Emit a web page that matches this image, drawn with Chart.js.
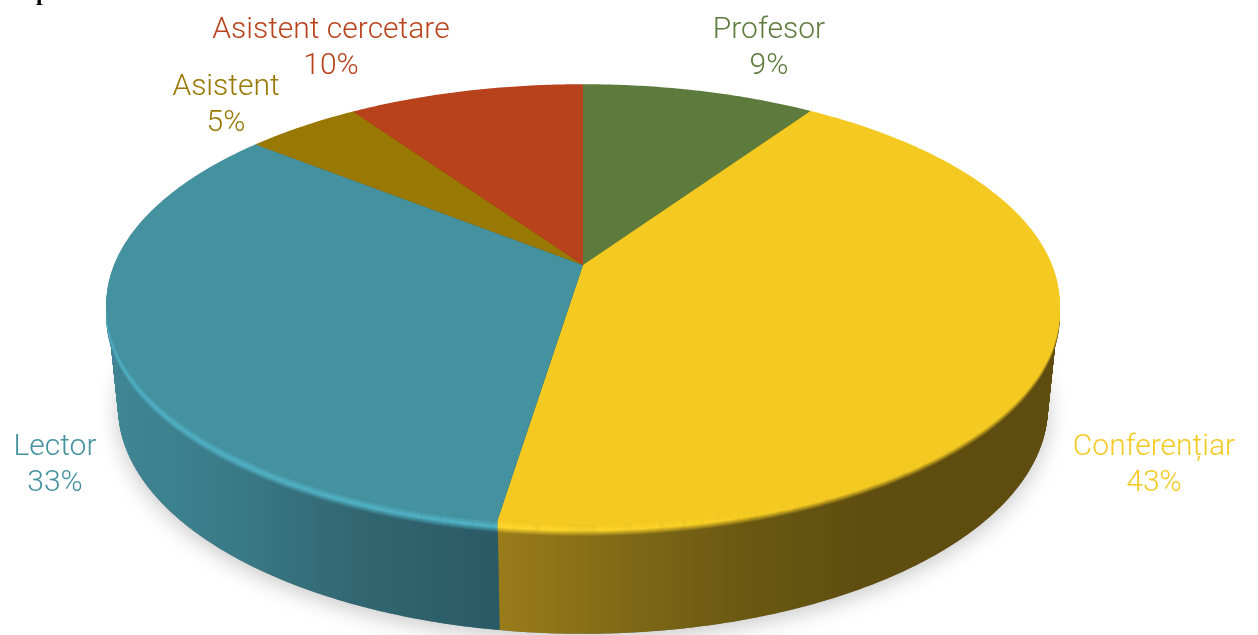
<!DOCTYPE html>
<html>
<head>
<meta charset="utf-8">
<style>
  html, body { margin: 0; padding: 0; background: #fff; overflow: hidden; }
  canvas { display: block; }
</style>
<script src="https://cdn.jsdelivr.net/npm/chart.js@4"></script>
</head>
<body>
<canvas id="chart" width="1258" height="635"></canvas>
<script>
const categories = ["Profesor", "Conferențiar", "Lector", "Asistent", "Asistent cercetare"];
const shares = [9.4, 43, 33.45, 4.65, 9.5];
const shareLabels = ["9%", "43%", "33%", "5%", "10%"];

const topColours = ["#5c7b3c", "#f4ca22", "#44919f", "#997803", "#b8421c"];

// wall shading runs left to right, [x, r, g, b, highlight r, g, b]
const wallShades = [
    [[583, 60, 80, 40, 110, 140, 75], [810, 50, 65, 32, 110, 140, 75]],
    [[498, 154, 124, 26, 255, 216, 44], [620, 128, 106, 23, 252, 212, 40], [740, 107, 89, 18, 246, 204, 34], [860, 95, 78, 16, 244, 202, 34], [1060, 95, 76, 16, 244, 202, 34]],
    [[107, 64, 134, 149, 78, 176, 196], [230, 58, 123, 135, 80, 178, 198], [360, 49, 102, 113, 80, 178, 198], [498, 42, 90, 102, 82, 180, 200]],
    [[258, 110, 86, 2, 170, 135, 10], [357, 110, 86, 2, 170, 135, 10]],
    [[357, 130, 46, 20, 200, 80, 40], [583, 130, 46, 20, 200, 80, 40]]
];

// where each label sits, centre of the first line
const labelSpots = [[769, 30], [1154, 447], [55, 447], [226, 87], [331, 30]];
const labelLineGap = 36;

// perspective view of the disc, tilt brings the near side towards the viewer
const cx = 583;
const tilt = -0.18;
const topFace = { a: 468.2, b: 212.4, y: 265 };
const baseFace = { a: 457.4, b: 219.6, y: 366 };
const rimDepth = 12;
const wallLayers = 120;

function project(face, angle, drop) {
    const u = Math.cos(angle);
    const v = Math.sin(angle);
    const d = 1 + tilt * v;
    return [cx + face.a * u / d, face.y + face.b * v / d + (drop || 0)];
}

function traceCurve(ctx, face, from, to, drop, moveFirst) {
    const steps = Math.max(2, Math.ceil(Math.abs(to - from) / 0.01));
    for (let i = 0; i <= steps; i++) {
        const p = project(face, from + (to - from) * i / steps, drop);
        if (i === 0 && moveFirst) ctx.moveTo(p[0], p[1]);
        else ctx.lineTo(p[0], p[1]);
    }
}

function shadeGradient(ctx, shade, mixer) {
    const x0 = shade[0][0];
    const x1 = shade[shade.length - 1][0];
    const g = ctx.createLinearGradient(x0, 0, x1, 0);
    for (const s of shade) {
        const c = mixer(s);
        g.addColorStop((s[0] - x0) / (x1 - x0), `rgb(${c[0]}, ${c[1]}, ${c[2]})`);
    }
    return g;
}

function hexToRgb(hex) {
    return [1, 3, 5].map(i => parseInt(hex.slice(i, i + 2), 16));
}

function mix(a, b, w) {
    return a.map((v, i) => Math.round(v + (b[i] - v) * w));
}

// rim colour across its depth: wall at the outside, highlight in the middle, face colour inside
function rimColour(s, top, depth) {
    const wall = s.slice(1, 4);
    const hi = s.slice(4, 7);
    if (depth > 6) return mix(hi, wall, (depth - 6) / (rimDepth - 6));
    return mix(top, hi, depth / 6);
}

function faceBetween(w) {
    return {
        a: baseFace.a + (topFace.a - baseFace.a) * w,
        b: baseFace.b + (topFace.b - baseFace.b) * w,
        y: baseFace.y + (topFace.y - baseFace.y) * w
    };
}

const pie3d = {
    id: 'pie3d',
    beforeDatasetsDraw(chart) {
        const ctx = chart.ctx;
        const arcs = chart.getDatasetMeta(0).data;

        // soft shadow under the disc
        ctx.save();
        ctx.shadowColor = 'rgba(0, 0, 0, 0.22)';
        ctx.shadowBlur = 22;
        ctx.shadowOffsetY = 5;
        ctx.fillStyle = '#888';
        ctx.beginPath();
        traceCurve(ctx, baseFace, 0, Math.PI * 2, 0, true);
        ctx.closePath();
        ctx.fill();
        ctx.restore();

        // walls, stacked up from the base so the sides stay straight
        const wallFills = arcs.map((arc, i) => shadeGradient(ctx, wallShades[i], s => s.slice(1, 4)));
        for (let layer = 0; layer <= wallLayers; layer++) {
            const face = faceBetween(layer / wallLayers);
            arcs.forEach((arc, i) => {
                ctx.fillStyle = wallFills[i];
                ctx.beginPath();
                ctx.moveTo(cx, face.y);
                traceCurve(ctx, face, arc.startAngle, arc.endAngle, 0, false);
                ctx.closePath();
                ctx.fill();
            });
        }

        // rounded rim between wall and face
        arcs.forEach((arc, i) => {
            const top = hexToRgb(topColours[i]);
            for (let d = rimDepth; d >= 0; d--) {
                ctx.strokeStyle = shadeGradient(ctx, wallShades[i], s => rimColour(s, top, d));
                ctx.lineWidth = 1.6;
                ctx.beginPath();
                traceCurve(ctx, topFace, arc.startAngle, arc.endAngle, d, true);
                ctx.stroke();
            }
        });

        // top face
        arcs.forEach((arc, i) => {
            ctx.fillStyle = topColours[i];
            ctx.beginPath();
            ctx.moveTo(cx, topFace.y);
            traceCurve(ctx, topFace, arc.startAngle, arc.endAngle, 0, false);
            ctx.closePath();
            ctx.fill();
        });

        return false;
    },
    afterDraw(chart) {
        const ctx = chart.ctx;
        ctx.save();
        ctx.textAlign = 'center';
        ctx.textBaseline = 'middle';
        ctx.font = "300 30px Roboto";
        categories.forEach((name, i) => {
            const spot = labelSpots[i];
            ctx.fillStyle = topColours[i];
            ctx.fillText(name, spot[0], spot[1]);
            ctx.fillText(shareLabels[i], spot[0], spot[1] + labelLineGap);
        });
        // foot of the page heading that the crop cuts off
        ctx.textAlign = 'left';
        ctx.textBaseline = 'alphabetic';
        ctx.fillStyle = '#000';
        ctx.font = "bold 24px 'Liberation Serif'";
        ctx.fillText("p", 36, 0);
        ctx.restore();
    }
};

new Chart(document.getElementById('chart').getContext('2d'), {
    type: 'pie',
    data: {
        labels: categories,
        datasets: [{ data: shares, backgroundColor: topColours, borderWidth: 0 }]
    },
    options: {
        responsive: false,
        animation: false,
        plugins: { legend: { display: false }, tooltip: { enabled: false } }
    },
    plugins: [pie3d]
});
</script>
</body>
</html>
